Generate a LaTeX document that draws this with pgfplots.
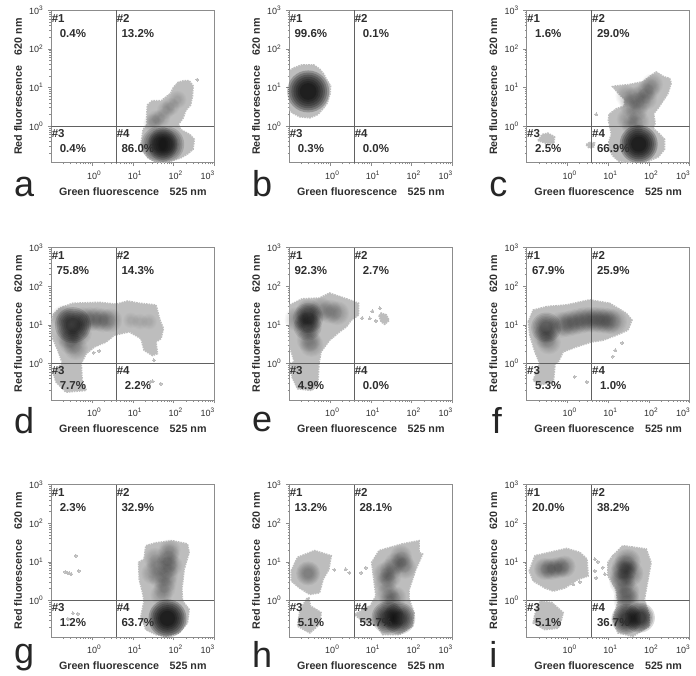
\documentclass[border=0pt]{standalone}
\usepackage{fontspec}
\setmainfont{Liberation Sans}
\usepackage{pgfplots}
\pgfplotsset{compat=1.18}
\definecolor{cloudgray}{gray}{0.74}
\definecolor{framegray}{gray}{0.55}
\definecolor{quadgray}{gray}{0.38}
\definecolor{inkgray}{gray}{0.18}

\newcommand\ticklab[1]{10\raisebox{3.6pt}{\fontsize{6.5}{7}\selectfont #1}}
\pgfplotsset{
  every axis/.append style={
    scale only axis, width=163pt, height=152.3pt, anchor=south west,
    xmode=log, ymode=log,
    xmin=0.1, xmax=1000, ymin=0.112, ymax=1000,
    xtick={1,10,100,1000}, ytick={1,10,100,1000},
    minor xtick={0.2,0.3,0.4,0.5,0.6,0.7,0.8,0.9,2,3,4,5,6,7,8,9,20,30,40,50,60,70,80,90,200,300,400,500,600,700,800,900},
    minor ytick={0.2,0.3,0.4,0.5,0.6,0.7,0.8,0.9,2,3,4,5,6,7,8,9,20,30,40,50,60,70,80,90,200,300,400,500,600,700,800,900},
    xticklabels={\ticklab0,\ticklab1,\ticklab2,\makebox[0pt][r]{\ticklab3\kern2pt}},
    yticklabels={\ticklab0,\ticklab1,\ticklab2,\ticklab3},
    xtick pos=bottom, ytick pos=left, tick align=outside,
    major tick length=3.5pt, minor tick length=1.8pt,
    tick style={framegray, line width=0.5pt},
    axis line style={framegray, line width=0.6pt},
    x tick label style={anchor=base, yshift=-13pt, xshift=2pt, font=\fontsize{9}{10}\selectfont, text=inkgray},
    y tick label style={anchor=east, xshift=-1.5pt, font=\fontsize{9}{10}\selectfont, text=inkgray},
    xlabel={Green fluorescence\hspace{1em}525 nm},
    ylabel={Red fluorescence\hspace{1em}620 nm},
    xlabel style={at={(axis description cs:0.5,0)}, anchor=base, yshift=-33pt, font=\fontsize{10.7}{12}\selectfont\bfseries, text=inkgray},
    ylabel style={at={(axis description cs:0,0.5)}, anchor=base, yshift=29.5pt, font=\fontsize{10.7}{12}\selectfont\bfseries, text=inkgray},
  },
}
% outline of a population
\newcommand\popn[1]{\addplot[draw=cloudgray, fill=cloudgray, line width=1.8pt, dash pattern=on 1.6pt off 0.9pt] coordinates {#1} --cycle;}
% isolated events
\newcommand\evts[1]{\addplot[only marks, mark=*, mark size=1.5pt, mark options={draw=cloudgray, fill=cloudgray, line width=0pt}] coordinates {#1};}
% density build-up: radius, opacity, centres
\newcommand\denslev[3]{\addplot[only marks, mark=*, mark size=#1, mark options={draw opacity=0, line width=0pt, fill=black, fill opacity=#2}] coordinates {#3};}
\newcommand\dens[3]{%
  \denslev{#1*1.00pt}{#2}{#3}\denslev{#1*0.90pt}{#2}{#3}\denslev{#1*0.80pt}{#2}{#3}\denslev{#1*0.70pt}{#2}{#3}%
  \denslev{#1*0.60pt}{#2}{#3}\denslev{#1*0.50pt}{#2}{#3}\denslev{#1*0.40pt}{#2}{#3}}
\newcommand\gatelines{%
  \addplot[quadgray, line width=0.6pt] coordinates {(3.88,0.112) (3.88,1000)};
  \addplot[quadgray, line width=0.6pt] coordinates {(0.1,1) (1000,1)};}
% letter and gate texts, relative to the lower left corner of a panel
\newcommand\gatetext[9]{%
  \begin{scope}[shift={(#1pt,#2pt)}, every node/.style={text=inkgray, font=\fontsize{11.5}{13}\selectfont\bfseries, inner sep=0pt}]
    \node[anchor=west] at (0.3pt,144.3pt) {\#1};
    \node[anchor=west] at (65.3pt,144.3pt) {\#2};
    \node[anchor=west] at (0.3pt,29.4pt) {\#3};
    \node[anchor=west] at (65.3pt,29.4pt) {\#4};
    \node at (21.6pt,129.3pt) {#4};
    \node at (86.6pt,129.3pt) {#5};
    \node at (21.6pt,14.4pt) {#6};
    \node at (86.6pt,14.4pt) {#7};
    \node[anchor=base west, font=\fontsize{36}{36}\selectfont, text=black!85] at (#9pt,#8pt) {#3};
  \end{scope}}

\begin{document}
\begin{tikzpicture}
\path[use as bounding box] (0,0) rectangle (696pt,676pt);

% a
\begin{axis}[at={(51.3pt,513.3pt)}]
\popn{(16,.35)(18,.22)(24,.15)(35,.12)(60,.115)(100,.13)(150,.15)(220,.19)(300,.25)(320,.45)(250,.6)(150,.8)(130,1.1)(170,1.6)(200,2.6)(260,3.5)(290,6)(300,11)(240,15)(180,15)(130,13.5)(100,10)(85,7)(50,4.5)(30,4.5)(23,3.5)(22,2)(22,1.1)(18,.8)}
\evts{(380,16)(120,10)}
\dens{9}{.018}{(30,1.2)(37,1.5)(50,1.6)(65,2.6)(85,3.2)(125,4.8)}
\dens{18}{.13}{(45,.335)(66,.335)}
\gatelines
\end{axis}
\gatetext{51.3}{513.3}{a}{0.4\%}{13.2\%}{0.4\%}{86.0\%}{-33.6}{-37.5}

% b
\begin{axis}[at={(289.3pt,513.3pt)}]
\popn{(.09,3)(.12,2.2)(.18,1.75)(.32,1.65)(.5,2)(.7,3)(.85,4)(1,7)(1.02,11)(.85,15)(.7,22)(.55,30)(.4,38)(.2,38)(.13,32)(.09,25)}
\dens{21}{.22}{(.29,7.9)}
\gatelines
\end{axis}
\gatetext{289.3}{513.3}{b}{99.6\%}{0.1\%}{0.3\%}{0.0\%}{-33.6}{-37.5}

% c
\begin{axis}[at={(526.7pt,513.3pt)}]
\popn{(10.5,.25)(13,.17)(18,.125)(30,.115)(60,.115)(100,.125)(170,.16)(240,.25)(240,.45)(180,.62)(130,.85)(140,1.2)(130,2.1)(170,3)(220,4.5)(290,7)(350,13)(320,17)(230,19)(150,25)(110,20)(70,14)(35,12)(16,11)(13,10.5)(18,7)(25,5)(25,3.3)(16,2.8)(10.5,2)(10.2,1.4)(11,1)(12,.6)(10.5,.4)}
\popn{(.19,.42)(.24,.6)(.33,.65)(.48,.52)(.46,.35)(.3,.36)}
\popn{(2.9,.33)(3.6,.38)(4.6,.36)(4.4,.29)(3.4,.27)}
\evts{(5.1,2)}
\dens{11}{.024}{(30,1.5)(40,1)(55,1.3)(50,2.5)(60,4)(45,5.5)(75,7)(100,9)(85,5)(35,3.5)(28,6)(120,12)}
\dens{19}{.22}{(56,.34)}
\gatelines
\end{axis}
\gatetext{526.7}{513.3}{c}{1.6\%}{29.0\%}{2.5\%}{66.9\%}{-33.6}{-37.5}

% d
\begin{axis}[at={(51.3pt,276pt)}]
\popn{(.1,10)(.11,18)(.16,27)(.34,36)(1.5,38)(3.9,34)(7.5,41)(14.5,36)(37,32.5)(46,13.3)(56,8)(49,4.4)(37,3.6)(40,1.8)(30.5,1.6)(19,2.2)(16,4.4)(8.2,6.6)(3.5,5.4)(2.2,3.6)(1.15,2.7)(.72,1.8)(.54,1)(.57,.326)(.72,.2)(.23,.18)(.132,.326)(.11,.59)(.19,1)(.145,2.2)(.11,4.4)(.1,7)}
\evts{(30.5,.345)(27,.33)(49,.295)(1.1,1.9)(1.5,2.1)(33,1.2)}
\dens{12}{.03}{(.6,14)(.9,14)(1.3,14)(1.9,13)(2.8,13)(.25,5)(.3,3.5)(.4,2.5)(.5,6)(.2,16)}
\dens{8}{.012}{(9,13)(15,12)(25,12)}
\dens{18}{.14}{(.34,9.8)}
\gatelines
\end{axis}
\gatetext{51.3}{276}{d}{75.8\%}{14.3\%}{7.7\%}{2.2\%}{-33.6}{-37.5}

% e
\begin{axis}[at={(289.3pt,276pt)}]
\popn{(.09,30)(.21,47)(.55,49)(.97,66)(1.7,54)(3,44)(5,36)(5,18)(3.3,13.3)(2.5,8.9)(1.7,6.6)(.97,4)(.6,2)(.53,1)(.5,.27)(.35,.2)(.16,.22)(.118,.44)(.106,1)(.135,1.08)(.106,2.4)(.09,5)}
\popn{(16,17)(18,20)(24,18)(28,13)(22,10.4)(18,12)}
\evts{(6.1,15)(9.5,14.6)(11,22.7)(13.4,12.7)(16.7,26.7)}
\dens{12}{.028}{(.6,25)(1,22)(1.5,20)(.3,4)(.35,3)(.15,14)}
\dens{15}{.09}{(.29,15)}
\dens{14}{.09}{(.28,9)}
\dens{13}{.05}{(.3,21)}
\gatelines
\end{axis}
\gatetext{289.3}{276}{e}{92.3\%}{2.7\%}{4.9\%}{0.0\%}{-32}{-37.5}

% f
\begin{axis}[at={(526.7pt,276pt)}]
\popn{(.11,12)(.145,24)(.31,29.5)(.95,32.5)(3.5,44)(10.8,36)(27.6,19.8)(38,13.2)(30.4,7.3)(15.8,5.4)(7.4,4)(3.9,3.6)(1.66,2.7)(.78,2)(.59,1.08)(.49,.95)(.45,.33)(.23,.28)(.145,.36)(.21,1)(.16,2)(.12,5.4)}
\evts{(1.5,.45)(3,.33)(15,2.2)(22,3.4)(13,1.5)}
\dens{15}{.09}{(.3,8.5)}
\dens{12}{.03}{(.28,5)(.35,3.5)}
\dens{13}{.03}{(.7,10)(1,10.5)(1.4,11.5)(2,12.5)(2.8,13.5)(4,13.5)(5.5,13.5)(7.5,13)(10,12.5)(14,12)}
\gatelines
\end{axis}
\gatetext{526.7}{276}{f}{67.9\%}{25.9\%}{5.3\%}{1.0\%}{-33.6}{-35}

% g
\begin{axis}[at={(51.3pt,39pt)}]
\popn{(16,.39)(21,.175)(37,.13)(65,.117)(137,.144)(218,.26)(240,.58)(165,.96)(159,1.94)(181,6.4)(240,17.5)(218,29)(94,35)(37,31)(21,26)(19,11.7)(14,9.6)(14.5,3.5)(17.5,1.58)(19,.96)}
\evts{(.22,5.5)(.25,5.2)(.28,5)(.31,4.8)(.47,5.8)(.4,14.3)(.256,.33)(.34,.46)(.45,.45)}
\dens{11}{.024}{(50,1.4)(60,2)(65,3)(70,4.5)(70,7)(72,10)(75,15)(80,20)(45,4)(40,8)(35,12)(30,5)(90,8)}
\dens{19}{.22}{(71,.34)}
\gatelines
\end{axis}
\gatetext{51.3}{39}{g}{2.3\%}{32.9\%}{1.2\%}{63.7\%}{-27}{-37.5}

% h
\begin{axis}[at={(289.3pt,39pt)}]
\popn{(.112,5.8)(.16,13)(.42,19.4)(1.06,14.3)(.93,6.4)(.67,3.5)(.55,1.58)(.32,1.43)(.18,2.1)(.112,3.2)}
\popn{(.18,.48)(.21,.71)(.27,1.1)(.3,1.15)(.33,.71)(.6,.48)(.55,.24)(.32,.144)(.16,.215)}
\popn{(4,.43)(10,.74)(13.4,1.3)(10.6,9.6)(16,19.4)(60,29)(153,35)(153,17.5)(185,15.8)(127,6.4)(87,1.94)(87,1.06)(115,.48)(105,.215)(50,.13)(19.5,.13)(14.7,.215)(6.3,.29)}
\evts{(1.28,6.2)(2.4,6.4)(3,5.2)(5.8,5.2)(7.6,7)}
\dens{12}{.05}{(.29,5)}
\dens{11}{.028}{(31,6.4)(30,4)(60,9.6)(55,14)(40,9)(23.5,2.9)(26,1.5)(30,1)(40,1.2)(22,5)(70,7)}
\dens{16}{.14}{(25.9,.36)(50,.34)}
\gatelines
\end{axis}
\gatetext{289.3}{39}{h}{13.2\%}{28.1\%}{5.1\%}{53.7\%}{-31}{-37.5}

% i
\begin{axis}[at={(526.7pt,39pt)}]
\popn{(.116,5.8)(.16,14.3)(.37,17.5)(.95,22)(2,17.5)(3,11.7)(3.2,4.3)(1.8,3.5)(.86,2.1)(.45,1.75)(.28,2.1)(.145,3.2)}
\popn{(.16,.43)(.22,.96)(.41,.87)(.78,.48)(.71,.32)(.59,.19)(.28,.175)(.145,.26)}
\popn{(13,14.3)(23,26)(85,21.4)(112,9.6)(77,1.06)(102,.39)(102,.215)(40,.117)(17.3,.144)(13,.32)(17.3,.87)(15.7,1.94)(9.9,4.3)(9.9,9.6)}
\evts{(4.7,11.7)(5.6,10)(7.4,7.1)(4.7,5.8)(8.2,4.8)(5.1,3.8)(1.4,2.6)(2,3)}
\dens{11}{.04}{(.28,6.5)(.4,6.5)(.6,7)(.85,7.5)}
\dens{13}{.045}{(22,3)(23,5)(25,7)(30,10)(35,5)(28,1.6)(28,1)}
\dens{15}{.14}{(28,.33)(60,.355)}
\gatelines
\end{axis}
\gatetext{526.7}{39}{i}{20.0\%}{38.2\%}{5.1\%}{36.7\%}{-31}{-37.5}
\end{tikzpicture}
\end{document}
